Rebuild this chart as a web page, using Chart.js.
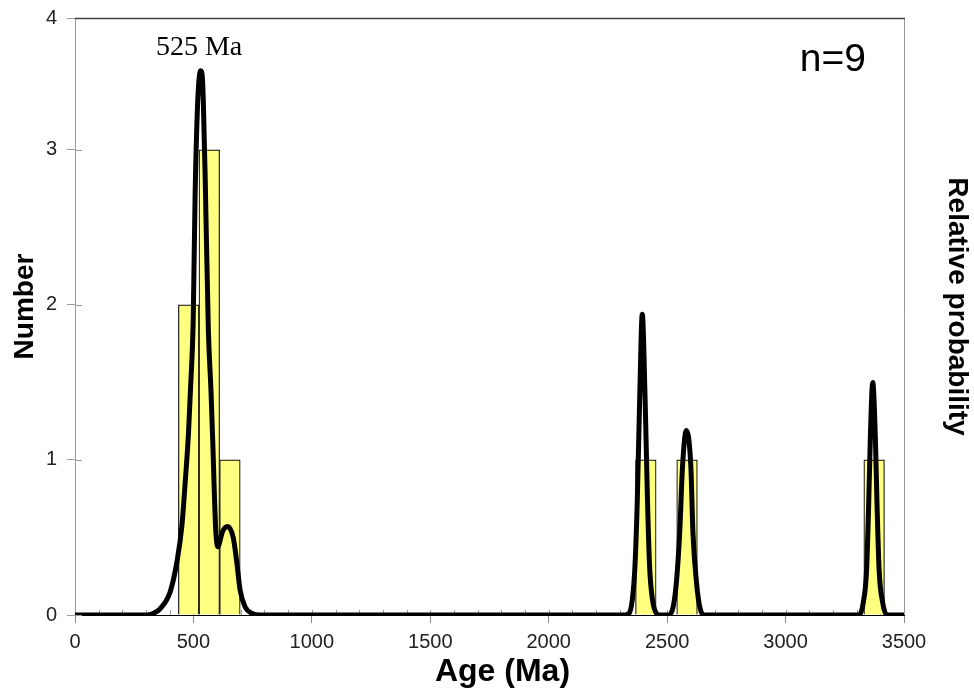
<!DOCTYPE html>
<html>
<head>
<meta charset="utf-8">
<title>Detrital zircon ages</title>
<script src="https://cdn.jsdelivr.net/npm/chart.js@4"></script>
<style>
  html, body { margin: 0; padding: 0; background: #fff; }
</style>
</head>
<body>
<canvas id="ageChart" width="974" height="695"></canvas>
<script>
// histogram bins (centre age, Ma) and grain counts
const AGE_BINS = [480, 567, 654, 2410, 2584, 3374];
const COUNTS = [2, 3, 1, 1, 1, 1];

// probability density curve (age Ma / height in "Number" units)
const PDP_AGE = [0, 300, 330, 359, 402, 430, 451, 465, 479, 489, 499, 507, 517, 524, 531, 538, 542, 550, 563, 574, 582, 588, 593, 599, 604, 611, 621, 644, 668, 683, 697, 719, 748, 780,
  2320, 2339, 2353, 2364, 2374, 2384, 2395, 2407, 2417, 2426, 2438, 2455, 2470,
  2508, 2525, 2539, 2553, 2565, 2581, 2600, 2609, 2624, 2638, 2656,
  3311, 3328, 3342, 3351, 3358, 3368, 3379, 3386, 3395, 3410, 3427, 3500];
const PDP_PROB = [0, 0, 0.01, 0.04, 0.15, 0.34, 0.57, 0.85, 1.17, 1.50, 1.90, 2.70, 3.27, 3.46, 3.51, 3.46, 3.30, 2.79, 1.84, 1.45, 1.10, 0.80, 0.58, 0.46, 0.44, 0.47, 0.53, 0.57, 0.50, 0.34, 0.16, 0.05, 0.01, 0,
  0, 0.01, 0.10, 0.31, 0.74, 1.39, 1.94, 1.39, 0.74, 0.31, 0.10, 0.01, 0,
  0, 0.05, 0.21, 0.53, 0.96, 1.19, 0.96, 0.53, 0.21, 0.05, 0,
  0, 0.08, 0.29, 0.72, 1.15, 1.50, 1.15, 0.72, 0.29, 0.08, 0, 0];

const Y_TICKS = [0, 1, 2, 3, 4];
const Y_TOP = 3.85;           // the plot frame stops a little under 4, the "4" sits on it
const X_MAX = 3500;
const PEAK_TEXT = '525 Ma';
const N_TEXT = 'n=9';
const X_TITLE = 'Age (Ma)';
const Y_TITLE = 'Number';
const Y2_TITLE = 'Relative probability';

const SANS = '"Liberation Sans", Arial, sans-serif';

const frame = {
    id: 'frame',
    beforeDatasetsDraw(chart) {
        const { ctx, chartArea: a, scales: { x, y } } = chart;
        ctx.save();
        ctx.strokeStyle = '#999';
        ctx.lineWidth = 1;
        ctx.beginPath();
        y.ticks.forEach(t => {
            const py = Math.round(y.getPixelForValue(t.value)) + 0.5;
            ctx.moveTo(a.left, py); ctx.lineTo(a.left + 7, py);
        });
        x.ticks.forEach(t => {
            const px = Math.round(x.getPixelForValue(t.value)) + 0.5;
            ctx.moveTo(px, a.bottom); ctx.lineTo(px, a.bottom - 5);
        });
        ctx.stroke();
        ctx.restore();
    },
    afterDraw(chart) {
        const { ctx, chartArea: a, scales: { x, y } } = chart;
        ctx.save();
        ctx.lineWidth = 1;
        ctx.strokeStyle = '#999';
        ctx.beginPath();
        ctx.moveTo(Math.round(a.right) + 0.5, a.top); ctx.lineTo(Math.round(a.right) + 0.5, a.bottom);
        ctx.stroke();
        ctx.strokeStyle = '#444';
        ctx.lineWidth = 1.5;
        ctx.beginPath();
        ctx.moveTo(a.left, Math.round(a.top) + 0.5); ctx.lineTo(a.right + 1, Math.round(a.top) + 0.5);
        ctx.stroke();

        ctx.fillStyle = '#000';
        ctx.textAlign = 'center';
        ctx.textBaseline = 'middle';
        ctx.font = '28px "Liberation Serif", "Times New Roman", serif';
        ctx.fillText(PEAK_TEXT, x.getPixelForValue(524), y.getPixelForValue(3.66));
        ctx.font = '39px ' + SANS;
        ctx.fillText(N_TEXT, x.getPixelForValue(3200), y.getPixelForValue(3.58));

        // axis titles, set slightly off the plot centre like the original
        const midY = (a.top + a.bottom) / 2 - 10;
        ctx.font = 'bold 32px ' + SANS;
        ctx.fillText(X_TITLE, (a.left + a.right) / 2 + 13, 672);
        ctx.font = 'bold 28px ' + SANS;
        ctx.translate(25, midY);
        ctx.rotate(-Math.PI / 2);
        ctx.fillText(Y_TITLE, 0, 0);
        ctx.setTransform(1, 0, 0, 1, 0, 0);
        ctx.translate(957, midY);
        ctx.rotate(Math.PI / 2);
        ctx.fillText(Y2_TITLE, 0, 0);
        ctx.restore();
    }
};

new Chart(document.getElementById('ageChart'), {
    type: 'bar',
    data: {
        datasets: [{
            type: 'line',
            label: 'Relative probability',
            data: PDP_AGE.map((a, i) => ({ x: a, y: PDP_PROB[i] })),
            borderColor: '#000',
            borderWidth: 5,
            pointRadius: 0,
            fill: false,
            cubicInterpolationMode: 'monotone',
            borderJoinStyle: 'round',
            borderCapStyle: 'round',
            yAxisID: 'y2',
            order: 1
        }, {
            type: 'bar',
            label: 'Number',
            data: AGE_BINS.map((a, i) => ({ x: a, y: COUNTS[i] })),
            backgroundColor: '#ffff80',
            borderColor: '#111',
            borderWidth: 1.2,
            barPercentage: 1,
            categoryPercentage: 1,
            yAxisID: 'y',
            order: 2
        }]
    },
    options: {
        responsive: false,
        animation: false,
        devicePixelRatio: 1,
        layout: { padding: { top: 18, left: 0, right: 0, bottom: 0 } },
        plugins: { legend: { display: false }, tooltip: { enabled: false } },
        scales: {
            x: {
                type: 'linear',
                min: 0, max: X_MAX,
                offset: false,
                ticks: {
                    stepSize: 100, autoSkip: false, maxRotation: 0, padding: 7,
                    color: '#222', font: { family: SANS, size: 20 },
                    callback: v => (v % 500 === 0 ? v : '')
                },
                grid: {
                    offset: false, drawOnChartArea: false, tickLength: 8,
                    color: c => (c.tick && c.tick.value % 500 === 0 ? '#888' : 'rgba(0,0,0,0)')
                },
                border: { color: '#000' },
                afterFit: s => { s.height = 80; }
            },
            y: {
                position: 'left',
                min: 0, max: Y_TOP,
                afterBuildTicks: s => { s.ticks = Y_TICKS.map(v => ({ value: Math.min(v, Y_TOP) })); },
                ticks: {
                    padding: 10, color: '#222', font: { family: SANS, size: 20 },
                    callback: (v, i) => Y_TICKS[i]
                },
                grid: { drawOnChartArea: false, tickLength: 8, color: '#999' },
                border: { color: '#999' },
                afterFit: s => { s.width = 75; s.paddingTop = 0; }
            },
            y2: {
                position: 'right',
                min: 0, max: Y_TOP,
                ticks: { display: false },
                grid: { display: false },
                border: { display: false },
                afterFit: s => { s.width = 70; s.paddingTop = 0; }
            }
        }
    },
    plugins: [frame]
});
</script>
</body>
</html>
